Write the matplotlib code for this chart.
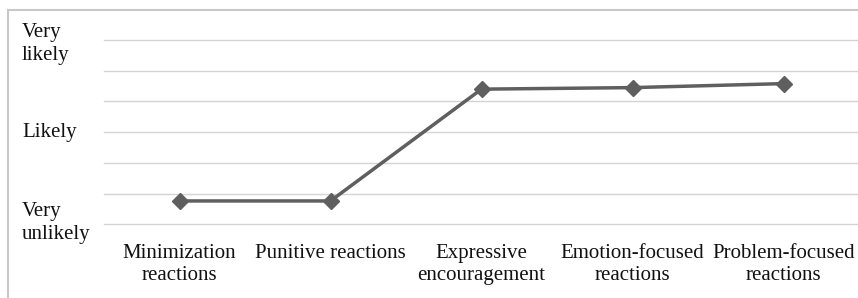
import matplotlib
matplotlib.use("Agg")
import matplotlib.pyplot as plt
import matplotlib.transforms as mtransforms
from matplotlib.patches import Rectangle

categories = ["Minimization\nreactions", "Punitive reactions", "Expressive\nencouragement",
              "Emotion-focused\nreactions", "Problem-focused\nreactions"]
values = [1.76, 1.76, 5.40, 5.45, 5.58]
ytick_vals = [1, 4, 7]
ytick_labels = ["Very\nunlikely", "Likely", "Very\nlikely"]
ylabel_shift = [0.04, 0.0, -0.12]   # small visual offsets of the label blocks
grid_levels = [1, 2, 3, 4, 5, 6, 7]

plt.rcParams['font.family'] = ['Liberation Serif', 'DejaVu Serif']

W, H = 858, 298
dpi = 100
fig = plt.figure(figsize=(W / dpi, H / dpi), dpi=dpi)

# outer border
fig.patches.append(Rectangle((8 / W, -0.1), 1.2, 1 - 10 / H + 0.1, transform=fig.transFigure,
                             fill=False, edgecolor="#c8c8c8", linewidth=1.5))

left, right = 104, 859
bottom_px, top_px = 224.3, 40
ax = fig.add_axes([left / W, 1 - bottom_px / H, (right - left) / W, (bottom_px - top_px) / H])
ax.set_xlim(-0.5, len(categories) - 0.5)
ax.set_ylim(1, 7)
for s in ax.spines.values():
    s.set_visible(False)
for g in grid_levels:
    ax.axhline(g, color="#d4d4d4", linewidth=1.0, zorder=1, clip_on=False)

x = list(range(len(categories)))
ax.plot(x, values, color="#5f5f5f", linewidth=2.5, marker="D", markersize=8,
        markerfacecolor="#5f5f5f", markeredgecolor="#5f5f5f", zorder=3, clip_on=False)

ax.set_xticks(x)
ax.set_xticklabels(categories, fontsize=15, linespacing=1.25)
ax.tick_params(axis="x", length=0, pad=14)
for t in ax.get_xticklabels():
    t.set_color("#111111")

ax.set_yticks([])
trans = mtransforms.blended_transform_factory(fig.transFigure, ax.transData)
for v, lab, sh in zip(ytick_vals, ytick_labels, ylabel_shift):
    ax.text(22 / W, v + sh, lab, transform=trans, ha="left", va="center",
            fontsize=15, linespacing=1.28, color="#111111", clip_on=False)

fig.savefig("out.png", dpi=dpi)
